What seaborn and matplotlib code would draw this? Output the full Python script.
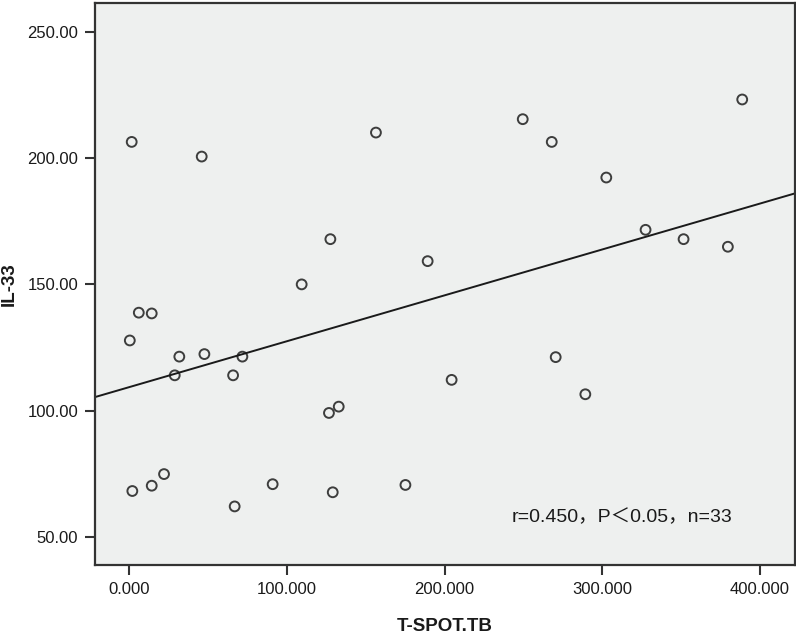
import numpy as np
import pandas as pd
import matplotlib
matplotlib.use("Agg")
import matplotlib.pyplot as plt
import seaborn as sns

# Data
tspot = [1.5, 45.9, 6.0, 14.2, 0.3, 31.7, 47.6, 71.7, 28.8, 65.8, 1.9, 14.2, 22.0,
         66.8, 90.9, 126.6, 132.8, 129.0, 175.1, 204.4, 270.4, 289.2, 156.4, 127.5,
         109.3, 189.2, 249.5, 267.9, 302.5, 327.4, 351.5, 379.6, 388.7]
il33 = [206.4, 200.6, 138.8, 138.5, 127.8, 121.4, 122.4, 121.4, 114.0, 114.0, 68.2,
        70.3, 74.9, 62.1, 70.9, 99.1, 101.6, 67.7, 70.6, 112.2, 121.2, 106.5, 210.1,
        167.9, 150.0, 159.2, 215.4, 206.4, 192.3, 171.6, 167.9, 164.9, 223.2]
x_ticks = [0, 100, 200, 300, 400]
x_tick_labels = ["0.000", "100.000", "200.000", "300.000", "400.000"]
y_ticks = [50, 100, 150, 200, 250]
y_tick_labels = ["50.00", "100.00", "150.00", "200.00", "250.00"]
annotation = "r=0.450，P＜0.05，n=33"

df = pd.DataFrame({"T-SPOT.TB": tspot, "IL-33": il33})

sns.set_theme(style="ticks")
plt.rcParams["font.family"] = ["Liberation Sans", "Noto Sans CJK SC", "DejaVu Sans"]

fig = plt.figure(figsize=(7.96, 6.35), dpi=100)
ax = fig.add_axes([0.1193, 0.1102, 0.8791, 0.8851])
ax.set_facecolor("#eef0ef")
ax.set_xlim(-21.8, 422)
ax.set_ylim(38.9, 261.4)

sns.regplot(data=df, x="T-SPOT.TB", y="IL-33", ax=ax, ci=None, truncate=False,
            scatter_kws=dict(s=50, facecolors="none", edgecolors="#111111", linewidths=1.4),
            line_kws=dict(color="#1a1a1a", linewidth=1.4), color="#111111")
ax.set_xlim(-21.8, 422)
ax.set_ylim(38.9, 261.4)

ax.set_xticks(x_ticks)
ax.set_xticklabels(x_tick_labels)
ax.set_yticks(y_ticks)
ax.set_yticklabels(y_tick_labels)
ax.tick_params(axis="both", length=7, width=1.5, color="#333333", labelsize=12,
               labelcolor="#1a1a1a", pad=5, direction="out")
ax.tick_params(top=False, right=False)

for sp in ax.spines.values():
    sp.set_visible(True)
    sp.set_color("#333333")
    sp.set_linewidth(1.6)

ax.set_xlabel("T-SPOT.TB", fontsize=13.5, fontweight="bold", color="#1a1a1a", va="center")
ax.set_ylabel("IL-33", fontsize=13.5, fontweight="bold", color="#1a1a1a", va="center")
ax.xaxis.set_label_coords(0.5, -0.1085)
ax.yaxis.set_label_coords(-0.123, 0.5)

ax.text(242.7, 57.5, annotation, fontsize=14, color="#1a1a1a", va="center", ha="left")

fig.savefig("out.png", dpi=100)
